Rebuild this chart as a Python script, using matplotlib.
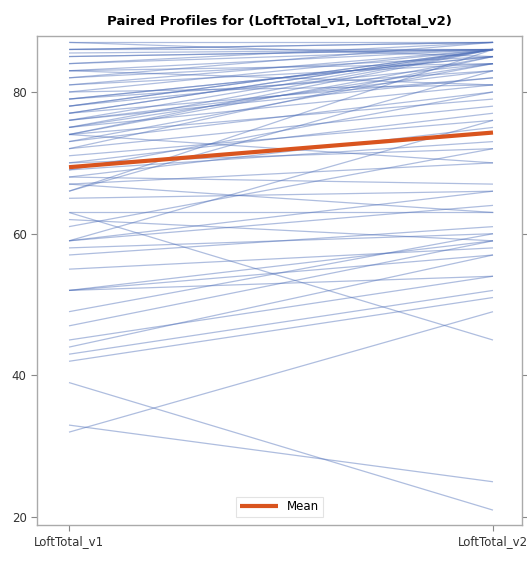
import matplotlib
matplotlib.use("Agg")
import matplotlib.pyplot as plt
import numpy as np

plt.rcParams['font.family'] = ['DejaVu Sans Condensed', 'Liberation Sans Narrow', 'DejaVu Sans']

title = "Paired Profiles for (LoftTotal_v1, LoftTotal_v2)"
x_labels = ["LoftTotal_v1", "LoftTotal_v2"]

v1 = [87, 86, 85.5, 85, 84, 83, 83, 78, 78, 77,
      76, 76, 75, 74, 74, 73, 72, 72, 71, 70,
      70, 69, 68, 67, 66, 66, 68, 65, 63, 62,
      61, 63, 59, 59, 58, 57, 59, 55, 52, 52,
      52, 49, 47, 45, 44, 43, 42, 39, 33, 32,
      86, 80, 79, 74, 69, 67,
      87, 86, 85, 84, 83, 82, 81, 80, 79, 78,
      77, 76, 75, 74, 73, 82, 81, 79, 77, 75]
v2 = [85, 87, 86, 86, 86, 84, 81, 86, 84, 86,
      83, 82, 86, 79, 85, 80, 78, 85, 76, 77,
      72, 73, 75, 70, 86, 83, 67, 66, 45, 59,
      72, 63, 76, 66, 60, 61, 64, 58, 59, 57,
      54, 60, 59, 54, 57, 52, 51, 21, 25, 49,
      87, 81, 85, 70, 80, 63,
      87, 86, 86, 87, 86, 85, 84, 86, 83, 86,
      82, 86, 84, 86, 84, 87, 86, 85, 86, 81]

y_ticks = [20, 40, 60, 80]

fig = plt.figure(figsize=(5.27, 5.66), dpi=100)
ax = fig.add_axes([37/527, 1-525/566, 485/527, 489/566])

xs = [1, 2]
for a, b in zip(v1, v2):
    ax.plot(xs, [a, b], color=(0.30, 0.43, 0.72), alpha=0.45, lw=0.9, solid_capstyle='butt')

ax.plot(xs, [np.mean(v1), np.mean(v2)], color='#d9541e', lw=3, label='Mean', solid_capstyle='butt')

ax.set_xlim(1 - 32/424, 2 + 29/424)
ax.set_ylim(18.9, 87.9)
ax.set_xticks(xs)
ax.set_xticklabels(x_labels, fontsize=8.5, color='#333333')
ax.set_yticks(y_ticks)
ax.set_yticklabels([str(t) for t in y_ticks], fontsize=8.5, color='#333333')
ax.tick_params(axis='both', direction='out', length=4, color='#888888', right=True, labelright=False)
for s in ax.spines.values():
    s.set_color('#aaaaaa')
    s.set_linewidth(1.0)

ax.set_title(title, fontsize=9.5, fontweight='bold', pad=8)

leg = ax.legend(loc='lower center', bbox_to_anchor=(0.5, 0.005), fontsize=8.5, frameon=True,
                fancybox=False, edgecolor='#dddddd', handlelength=3.2, borderpad=0.3)
leg.get_frame().set_linewidth(0.8)

fig.savefig("out.png", dpi=100)
